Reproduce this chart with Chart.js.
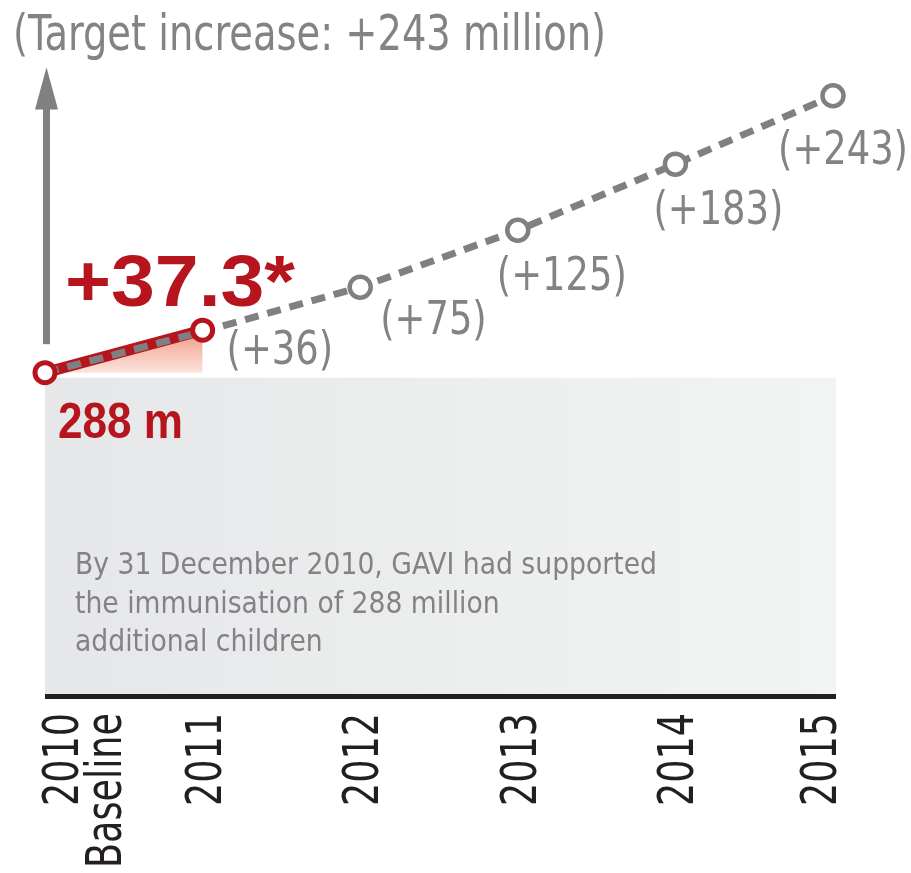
<!DOCTYPE html>
<html>
<head>
<meta charset="utf-8">
<script src="https://cdn.jsdelivr.net/npm/chart.js@4.4.1/dist/chart.umd.min.js"></script>
<style>
  html,body{margin:0;background:#fff}
  #wrap{width:911px;height:873px;position:relative}
</style>
</head>
<body>
<div id="wrap"><canvas id="c"></canvas></div>
<script>
// data
const years = [['2010','Baseline'],'2011','2012','2013','2014','2015'];
const targetIncrease = [0,36,75,125,183,243];   // million, cumulative target
const achieved = [0,37.3];                        // achieved by end 2011
const baseline = '288 m';
const title = '(Target increase: +243 million)';
const note = ['By 31 December 2010, GAVI had supported','the immunisation of 288 million','additional children'];

const RED='#b7151d', GREY='#808083', TXT='#838386', DARK='#231f20';
const NARROW='"Liberation Sans Narrow","Arial Narrow","DejaVu Sans Condensed",sans-serif';
const BOLD='"Liberation Sans",Arial,sans-serif';

// where each "(+n)" label sits relative to its point [dx, dy]
const labelShift = [null,[24,32],[20,47],[-21,60],[-22,60],[-55,68]];

// draw text with a horizontal scale
function fit(ctx, txt, x, y, sx){
  ctx.save(); ctx.translate(x,y); ctx.scale(sx,1); ctx.fillText(txt,0,0); ctx.restore();
}

const decor = {
  id:'decor',
  beforeDatasetsDraw(chart){
    const {ctx, chartArea:a, scales:{x,y}} = chart;
    const x0 = x.getPixelForValue(0);
    ctx.save();
    // grey panel
    const top = y.getPixelForValue(-4.5);
    const g = ctx.createLinearGradient(x0,0,a.right,0);
    g.addColorStop(0,'#e6e7e8'); g.addColorStop(1,'#f2f3f3');
    ctx.fillStyle=g;
    ctx.fillRect(x0, top, a.right+3-x0, a.bottom-top);
    // base line
    ctx.fillStyle=DARK;
    ctx.fillRect(x0, a.bottom, a.right+3-x0, 5);
    // arrow
    const ax = x0+1.5;
    const tip = y.getPixelForValue(268), head = y.getPixelForValue(231), foot = y.getPixelForValue(25);
    ctx.fillStyle=GREY;
    ctx.fillRect(ax-3.5, head-1, 7, foot-head+1);
    ctx.beginPath(); ctx.moveTo(ax,tip); ctx.lineTo(ax+11.5,head); ctx.lineTo(ax-11.5,head); ctx.closePath(); ctx.fill();
    ctx.restore();
  },
  afterDatasetsDraw(chart){
    const {ctx, chartArea:a, scales:{x,y}} = chart;
    const x0 = x.getPixelForValue(0), y0 = y.getPixelForValue(0);
    ctx.save();
    ctx.textAlign='left'; ctx.textBaseline='alphabetic';

    // title
    ctx.fillStyle=TXT;
    ctx.font='49px '+NARROW;
    fit(ctx, title, 13, 50, 593/ctx.measureText(title).width);

    // target labels
    ctx.font='47px '+NARROW;
    const s1 = 130/ctx.measureText('(+125)').width;
    targetIncrease.forEach((v,i)=>{
      if(!labelShift[i]) return;
      const px = x.getPixelForValue(i), py = y.getPixelForValue(v);
      fit(ctx, '(+'+v+')', px+labelShift[i][0], py+labelShift[i][1], s1);
    });

    // achieved value
    ctx.fillStyle=RED;
    ctx.font='bold 73px '+BOLD;
    const big = '+'+achieved[1]+'*';
    fit(ctx, big, x0+20, y0-67, 230/ctx.measureText(big).width);
    ctx.font='bold 50px '+BOLD;
    fit(ctx, baseline, x0+13, y0+65, 125/ctx.measureText(baseline).width);

    // note in panel
    ctx.fillStyle=TXT;
    ctx.font='31px '+NARROW;
    const s2 = 582/ctx.measureText(note[0]).width;
    note.forEach((t,i)=>fit(ctx, t, x0+30, y0+201.5+i*38.5, s2));

    // rotated year labels
    ctx.fillStyle=DARK;
    ctx.font='50px '+NARROW;
    ctx.textAlign='right';
    const s3 = 93/ctx.measureText('2010').width;
    const cap=36, gap=43, tickTop=a.bottom+19;
    years.forEach((lab,i)=>{
      const lines=[].concat(lab);
      const w=cap+gap*(lines.length-1);
      let left=x.getPixelForTick(i)-w/2;
      left=Math.max(a.left-3, Math.min(a.right+3-w, left));
      lines.forEach((t,j)=>{
        ctx.save();
        ctx.translate(left+cap+j*gap, tickTop);
        ctx.rotate(-Math.PI/2);
        ctx.scale(s3,1);
        ctx.fillText(t,0,0);
        ctx.restore();
      });
    });
    ctx.restore();
  }
};

new Chart(document.getElementById('c'), {
  type:'line',
  data:{
    labels: years,
    datasets:[
      { // target points
        data: targetIncrease, showLine:false, order:0,
        pointRadius: targetIncrease.map((v,i)=>i<2?0:10.5),
        pointBorderWidth:4.5, pointBorderColor:GREY, pointBackgroundColor:'#fff'
      },
      { // achieved points
        data: achieved, showLine:false, order:1,
        pointRadius:10, pointBorderWidth:5, pointBorderColor:RED, pointBackgroundColor:'#fff'
      },
      { // target dashed line
        data: targetIncrease, order:2, pointRadius:0,
        borderColor:GREY, borderWidth:7, borderDash:[14,9], borderCapStyle:'butt'
      },
      { // achieved line + fill
        data: achieved, order:3, pointRadius:0,
        borderColor:RED, borderWidth:11,
        fill:'origin',
        backgroundColor(c){
          const ch=c.chart;
          if(!ch.chartArea) return 'rgba(0,0,0,0)';
          const yy=ch.scales.y;
          const g=ch.ctx.createLinearGradient(0,yy.getPixelForValue(37),0,yy.getPixelForValue(0));
          g.addColorStop(0,'#ef9a85'); g.addColorStop(1,'#fbe4dd');
          return g;
        }
      }
    ]
  },
  options:{
    responsive:true, maintainAspectRatio:false, animation:false,
    layout:{padding:{left:45,right:78,top:65,bottom:179}},
    elements:{line:{tension:0}},
    datasets:{line:{clip:false}},
    scales:{
      x:{display:false},
      y:{display:false, min:-282, max:270}
    },
    plugins:{legend:{display:false}, tooltip:{enabled:false}}
  },
  plugins:[decor]
});
</script>
</body>
</html>
